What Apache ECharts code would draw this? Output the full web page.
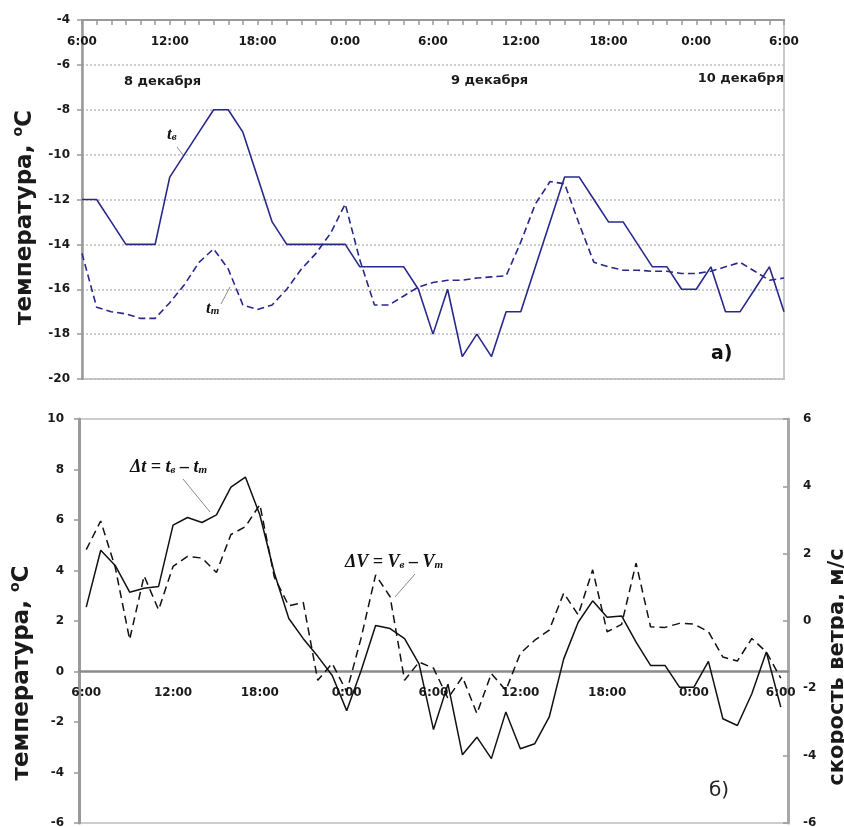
<!DOCTYPE html>
<html>
<head>
<meta charset="utf-8">
<script src="https://cdn.jsdelivr.net/npm/echarts@6/dist/echarts.min.js"></script>
<style>
html, body { margin: 0; background: #fff; }
#chart { width: 844px; height: 827px; }
</style>
</head>
<body>
<div id="chart"></div>
<script>
// часы с 6:00 8 декабря до 6:00 10 декабря
const hours = ['6:00','7:00','8:00','9:00','10:00','11:00','12:00','13:00','14:00','15:00','16:00','17:00',
  '18:00','19:00','20:00','21:00','22:00','23:00','0:00','1:00','2:00','3:00','4:00','5:00',
  '6:00','7:00','8:00','9:00','10:00','11:00','12:00','13:00','14:00','15:00','16:00','17:00',
  '18:00','19:00','20:00','21:00','22:00','23:00','0:00','1:00','2:00','3:00','4:00','5:00','6:00'];

// а) температура, наблюдения (tв) и модель (tm)
const tB = [-12,-12,-13,-14,-14,-14,-11,-10,-9,-8,-8,-9,-11,-13,-14,-14,-14,-14,-14,-15,-15,-15,-15,-16,
  -18,-16,-19,-18,-19,-17,-17,-15,-13,-11,-11,-12,-13,-13,-14,-15,-15,-16,-16,-15,-17,-17,-16,-15,-17];
const tM = [-14.4,-16.8,-17.0,-17.1,-17.3,-17.3,-16.6,-15.8,-14.8,-14.2,-15.1,-16.7,-16.9,-16.7,-16.0,-15.1,
  -14.4,-13.5,-12.2,-14.7,-16.7,-16.7,-16.3,-15.9,-15.7,-15.6,-15.6,-15.5,-15.45,-15.4,-13.9,-12.2,-11.2,
  -11.3,-13.1,-14.8,-15.0,-15.15,-15.15,-15.2,-15.2,-15.3,-15.3,-15.2,-15.0,-14.8,-15.2,-15.6,-15.5];

// б) разности температуры (левая ось) и скорости ветра (правая ось)
const dT = [2.55,4.8,4.2,3.14,3.3,3.37,5.8,6.1,5.9,6.2,7.3,7.7,6.2,3.9,2.1,1.3,0.6,-0.16,-1.55,0.04,1.82,1.7,
  1.3,0.3,-2.3,-0.5,-3.3,-2.6,-3.45,-1.6,-3.06,-2.86,-1.8,0.5,1.95,2.8,2.15,2.2,1.16,0.24,0.24,-0.62,-0.62,
  0.4,-1.87,-2.14,-0.88,0.77,-1.41];
const dV = [2.12,2.97,1.6,-0.55,1.34,0.33,1.62,1.92,1.87,1.44,2.57,2.8,3.46,1.3,0.45,0.55,-1.76,-1.26,-2.1,
  -0.5,1.37,0.72,-1.76,-1.22,-1.4,-2.3,-1.66,-2.75,-1.56,-2.06,-0.96,-0.57,-0.27,0.83,0.18,1.52,-0.32,-0.1,
  1.72,-0.17,-0.19,-0.07,-0.09,-0.32,-1.07,-1.19,-0.52,-0.92,-1.7];

const chart = echarts.init(document.getElementById('chart'));

const tickFont = { fontFamily: 'DejaVu Sans', fontWeight: 'bold', fontSize: 12, color: '#1a1a1a' };
const serif = 'Liberation Serif';

// нижняя сетка: 10 при y=419, -6 при y=823, ось X проходит через 0
const lowTop = 419, lowHeight = 404, lowMin = -6, lowMax = 10;
const zeroFromBottom = lowHeight * (0 - lowMin) / (lowMax - lowMin);

function axisName(pad, size, lh) {
  return {
    fontFamily: 'DejaVu Sans', fontWeight: 'bold', fontSize: size, color: '#1a1a1a',
    padding: [0, pad, 0, 0],
    rich: {
      a: { fontFamily: 'DejaVu Sans', fontWeight: 'bold', fontSize: size, color: '#1a1a1a', lineHeight: lh },
      s: { fontFamily: 'DejaVu Sans', fontWeight: 'bold', fontSize: 14, color: '#1a1a1a', verticalAlign: 'top', lineHeight: 14 }
    }
  };
}

function richLabel(x, y, text, size) {
  return {
    type: 'text', x: x, y: y,
    style: {
      text: text, fill: '#111',
      rich: {
        n: { fontFamily: serif, fontStyle: 'italic', fontWeight: 'bold', fontSize: size, fill: '#111' },
        s: { fontFamily: serif, fontStyle: 'italic', fontWeight: 'bold', fontSize: Math.round(size * 0.62), fill: '#111', verticalAlign: 'bottom', lineHeight: size }
      }
    }
  };
}

function leader(x1, y1, x2, y2) {
  return { type: 'line', shape: { x1: x1, y1: y1, x2: x2, y2: y2 }, style: { stroke: '#8a8a8a', lineWidth: 1 } };
}

chart.setOption({
  animation: false,
  grid: [
    { left: 82, top: 20, width: 702, height: 359, show: true, borderColor: '#c8c8c8', borderWidth: 2, outerBoundsMode: 'none', containLabel: false },
    { left: 79, top: lowTop, width: 709, height: lowHeight, show: true, borderColor: '#bdbdbd', borderWidth: 1.5, outerBoundsMode: 'none', containLabel: false }
  ],
  xAxis: [
    {
      type: 'category', gridIndex: 0, position: 'top', data: hours, boundaryGap: false,
      axisLine: { lineStyle: { color: '#9a9a9a', width: 2 } },
      axisTick: { inside: true, length: 5, interval: 0, lineStyle: { color: '#9a9a9a', width: 1.5 } },
      axisLabel: Object.assign({ inside: true, interval: 5, margin: 16 }, tickFont),
      splitLine: { show: false }
    },
    {
      type: 'category', gridIndex: 1, position: 'bottom', data: hours, boundaryGap: true,
      offset: -zeroFromBottom,
      axisLine: { onZero: false, lineStyle: { color: '#8c8c8c', width: 2.5 } },
      axisTick: { interval: 0, length: 5, lineStyle: { color: '#8c8c8c', width: 1.5 } },
      axisLabel: Object.assign({ interval: 5, margin: 15 }, tickFont),
      splitLine: { show: false }
    },
    {
      type: 'category', gridIndex: 1, position: 'top', data: hours, boundaryGap: true,
      offset: -(lowHeight - zeroFromBottom),
      axisLine: { show: false, onZero: false },
      axisTick: { interval: 0, length: 5, lineStyle: { color: '#8c8c8c', width: 1.5 } },
      axisLabel: { show: false },
      splitLine: { show: false }
    }
  ],
  yAxis: [
    {
      type: 'value', gridIndex: 0, min: -20, max: -4, interval: 2,
      name: '{a|температура, }{s|o}{a|C}', nameLocation: 'middle', nameGap: 43,
      nameTextStyle: axisName(36, 23, 28),
      axisLine: { show: true, lineStyle: { color: '#9a9a9a', width: 2.5 } },
      axisTick: { show: true, length: 5, lineStyle: { color: '#9a9a9a', width: 1.5 } },
      axisLabel: Object.assign({ margin: 12 }, tickFont),
      splitLine: { show: true, lineStyle: { color: '#bdbdbd', type: [2, 2], width: 1.5 } }
    },
    {
      type: 'value', gridIndex: 1, min: lowMin, max: lowMax, interval: 2,
      name: '{a|температура, }{s|o}{a|C}', nameLocation: 'middle', nameGap: 43,
      nameTextStyle: axisName(104, 23, 28),
      axisLine: { show: true, lineStyle: { color: '#9a9a9a', width: 3 } },
      axisTick: { show: true, length: 5, lineStyle: { color: '#9a9a9a', width: 1.5 } },
      axisLabel: Object.assign({ margin: 15 }, tickFont),
      splitLine: { show: false }
    },
    {
      type: 'value', gridIndex: 1, position: 'right', min: -6, max: 6, interval: 2,
      name: '{a|скорость ветра, м/с}', nameLocation: 'middle', nameGap: 29,
      nameTextStyle: axisName(92, 21, 22),
      axisLine: { show: true, lineStyle: { color: '#a8a8a8', width: 3 } },
      axisTick: { show: true, inside: true, length: 5, lineStyle: { color: '#9a9a9a', width: 1.5 } },
      axisLabel: Object.assign({ margin: 15 }, tickFont),
      splitLine: { show: false }
    }
  ],
  series: [
    {
      name: 'tв', type: 'line', xAxisIndex: 0, yAxisIndex: 0, data: tB,
      symbol: 'none', lineStyle: { color: '#28288c', width: 1.6 }
    },
    {
      name: 'tm', type: 'line', xAxisIndex: 0, yAxisIndex: 0, data: tM,
      symbol: 'none', lineStyle: { color: '#28288c', width: 1.6, type: [7, 4] }
    },
    {
      name: 'Δt', type: 'line', xAxisIndex: 1, yAxisIndex: 1, data: dT,
      symbol: 'none', lineStyle: { color: '#111', width: 1.5 }
    },
    {
      name: 'ΔV', type: 'line', xAxisIndex: 1, yAxisIndex: 2, data: dV,
      symbol: 'none', lineStyle: { color: '#111', width: 1.5, type: [8, 5] }
    }
  ],
  graphic: [
    { type: 'text', x: 124, y: 75, style: { text: '8 декабря', fill: '#1a1a1a', font: 'bold 13px "DejaVu Sans"' } },
    { type: 'text', x: 451, y: 74, style: { text: '9 декабря', fill: '#1a1a1a', font: 'bold 13px "DejaVu Sans"' } },
    { type: 'text', x: 784, y: 72, style: { text: '10 декабря', fill: '#1a1a1a', font: 'bold 13px "DejaVu Sans"', align: 'right' } },
    { type: 'text', x: 711, y: 345, style: { text: 'а)', fill: '#111', font: 'bold 19px "DejaVu Sans"' } },
    { type: 'text', x: 709, y: 781, style: { text: 'б)', fill: '#222', font: '20px "DejaVu Sans"' } },
    richLabel(167, 126, '{n|t}{s|в}', 17),
    leader(177, 147, 183, 155),
    richLabel(206, 300, '{n|t}{s|m}', 17),
    leader(221, 304, 230, 287),
    richLabel(130, 458, '{n|Δt = t}{s|в}{n| – t}{s|m}', 18),
    leader(183, 479, 210, 512),
    richLabel(345, 553, '{n|ΔV = V}{s|в}{n| – V}{s|m}', 18),
    leader(415, 574, 395, 597)
  ]
});
</script>
</body>
</html>
